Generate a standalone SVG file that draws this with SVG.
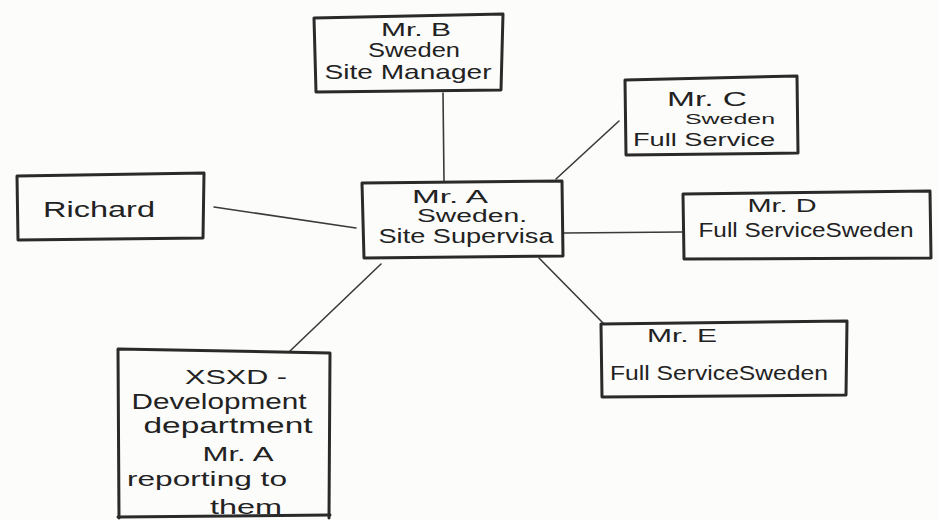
<svg xmlns="http://www.w3.org/2000/svg" width="939" height="520" viewBox="0 0 939 520">
  <style>
    .box { fill: none; stroke: #2a2a2a; stroke-width: 3; stroke-linejoin: round; stroke-linecap: round; }
    .link { fill: none; stroke: #3a3a3a; stroke-width: 1.6; stroke-linecap: round; }
    .t { font-family: "Liberation Sans", "DejaVu Sans", sans-serif; fill: #222; text-anchor: middle; }
  </style>
  <rect x="0" y="0" width="939" height="520" fill="#fcfcfb"/>

  <g id="connectors">
    <path class="link" d="M443 93 L444 181"/>
    <path class="link" d="M619 121 L556 179"/>
    <path class="link" d="M214 207 L356 228"/>
    <path class="link" d="M564 233 L682 232"/>
    <path class="link" d="M539 258 L604 324"/>
    <path class="link" d="M381 264 L290 351"/>
  </g>

  <g id="mr-b">
    <path class="box" d="M314 18 L503 14 L501 90 L316 92 Z"/>
    <text class="t" x="416" y="36" font-size="19" textLength="70" lengthAdjust="spacingAndGlyphs">Mr. B</text>
    <text class="t" x="414" y="57" font-size="20" textLength="92" lengthAdjust="spacingAndGlyphs">Sweden</text>
    <text class="t" x="408" y="79" font-size="21" textLength="167" lengthAdjust="spacingAndGlyphs">Site Manager</text>
  </g>

  <g id="mr-c">
    <path class="box" d="M625 80 L797 76 L798 153 L626 155 Z"/>
    <text class="t" x="707" y="106" font-size="21" textLength="80" lengthAdjust="spacingAndGlyphs">Mr. C</text>
    <text class="t" x="730" y="124" font-size="15" textLength="90" lengthAdjust="spacingAndGlyphs">Sweden</text>
    <text class="t" x="704" y="146" font-size="19" textLength="142" lengthAdjust="spacingAndGlyphs">Full Service</text>
  </g>

  <g id="mr-a">
    <path class="box" d="M362 183 L562 181 L563 256 L364 258 Z"/>
    <text class="t" x="450" y="203" font-size="18" textLength="76" lengthAdjust="spacingAndGlyphs">Mr. A</text>
    <text class="t" x="472" y="222" font-size="18" textLength="110" lengthAdjust="spacingAndGlyphs">Sweden.</text>
    <text class="t" x="466" y="243" font-size="20" textLength="175" lengthAdjust="spacingAndGlyphs">Site Supervisa</text>
  </g>

  <g id="richard">
    <path class="box" d="M17 176 L204 173 L203 238 L18 240 Z"/>
    <text class="t" x="99" y="217" font-size="22" textLength="112" lengthAdjust="spacingAndGlyphs">Richard</text>
  </g>

  <g id="mr-d">
    <path class="box" d="M683 194 L930 191 L931 258 L684 259 Z"/>
    <text class="t" x="782" y="212" font-size="19" textLength="69" lengthAdjust="spacingAndGlyphs">Mr. D</text>
    <text class="t" x="806" y="237" font-size="21" textLength="215" lengthAdjust="spacingAndGlyphs">Full ServiceSweden</text>
  </g>

  <g id="mr-e">
    <path class="box" d="M601 324 L847 321 L846 395 L602 397 Z"/>
    <text class="t" x="682" y="342" font-size="19" textLength="70" lengthAdjust="spacingAndGlyphs">Mr. E</text>
    <text class="t" x="719" y="380" font-size="21" textLength="218" lengthAdjust="spacingAndGlyphs">Full ServiceSweden</text>
  </g>

  <g id="xsxd">
    <path class="box" d="M119 518 L118 349 L330 353 L329 518"/>
    <text class="t" x="236" y="384" font-size="21" textLength="102" lengthAdjust="spacingAndGlyphs">XSXD -</text>
    <text class="t" x="219" y="409" font-size="22" textLength="175" lengthAdjust="spacingAndGlyphs">Development</text>
    <text class="t" x="228" y="433" font-size="22" textLength="169" lengthAdjust="spacingAndGlyphs">department</text>
    <text class="t" x="238" y="461" font-size="21" textLength="71" lengthAdjust="spacingAndGlyphs">Mr. A</text>
    <text class="t" x="207" y="486" font-size="21" textLength="160" lengthAdjust="spacingAndGlyphs">reporting to</text>
    <text class="t" x="246" y="514" font-size="20" textLength="72" lengthAdjust="spacingAndGlyphs">them</text>
    <path class="box" d="M118 517 L330 515"/>
  </g>
</svg>
